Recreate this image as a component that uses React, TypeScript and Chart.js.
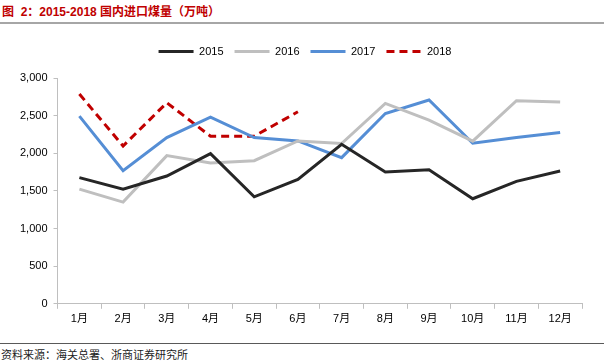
import React, { useEffect, useRef } from "react";
import { Chart, registerables } from "chart.js";

Chart.register(...registerables);

const months = ["1月", "2月", "3月", "4月", "5月", "6月", "7月", "8月", "9月", "10月", "11月", "12月"];
const s2015 = [1676, 1524, 1698, 1995, 1422, 1653, 2120, 1751, 1782, 1396, 1627, 1764];
const s2016 = [1524, 1351, 1969, 1871, 1902, 2164, 2129, 2662, 2440, 2160, 2698, 2680];
const s2017 = [2493, 1769, 2209, 2480, 2209, 2164, 1942, 2529, 2707, 2133, 2209, 2276];
const s2018 = [2787, 2097, 2671, 2227, 2227, 2551];
const yTicks = [0, 500, 1000, 1500, 2000, 2500, 3000];

const FONT = "'Liberation Sans', Arial, 'Noto Sans CJK SC', sans-serif";

const legendTweakPlugin = {
  id: "legendTweak",
  beforeInit(chart: any) {
    const legend = chart.legend;
    if (!legend) return;
    const origFit = legend.fit;
    legend.fit = function () {
      origFit.call(this);
      this.height = 43;
    };
  },
  beforeDraw(chart: any) {
    const legend = chart.legend;
    if (!legend) return;
    legend.left += 7;
    legend.right += 7;
  },
};

export default function App() {
  const ref = useRef<HTMLCanvasElement | null>(null);
  useEffect(() => {
    document.body.style.margin = "0";
    if (!ref.current) return;
    const chart = new Chart(ref.current, {
      type: "line",
      data: {
        labels: months,
        datasets: [
          { label: "2015", data: s2015, borderColor: "#262626", backgroundColor: "#262626", borderWidth: 3, pointRadius: 0, tension: 0 },
          { label: "2016", data: s2016, borderColor: "#bfbfbf", backgroundColor: "#bfbfbf", borderWidth: 3, pointRadius: 0, tension: 0 },
          { label: "2017", data: s2017, borderColor: "#558ed5", backgroundColor: "#558ed5", borderWidth: 3, pointRadius: 0, tension: 0 },
          { label: "2018", data: s2018, borderColor: "#c00000", backgroundColor: "#c00000", borderWidth: 3, borderDash: [8, 5], pointRadius: 0, tension: 0 },
        ],
      },
      options: {
        animation: false,
        responsive: false,
        maintainAspectRatio: false,
        layout: { padding: { left: 14, right: 22, top: 5, bottom: 0 } },
        plugins: {
          legend: {
            position: "top",
            labels: {
              usePointStyle: true,
              pointStyle: "line",
              pointStyleWidth: 35,
              boxHeight: 11,
              padding: 11,
              color: "#000",
              font: { family: FONT, size: 11 },
              generateLabels: (c: any) => {
                const items = Chart.defaults.plugins.legend.labels.generateLabels(c);
                items.forEach((it: any, i: number) => {
                  const ds: any = c.data.datasets[i];
                  it.lineDash = ds.borderDash || [];
                  it.lineWidth = 3;
                  it.strokeStyle = ds.borderColor;
                });
                return items;
              },
            },
          },
          tooltip: { enabled: false },
        },
        scales: {
          x: {
            offset: true,
            grid: { offset: true, drawOnChartArea: false, drawTicks: true, tickLength: 5, color: "#bfbfbf" },
            border: { color: "#bfbfbf", width: 1 },
            ticks: { color: "#000", font: { family: FONT, size: 11 }, maxRotation: 0, padding: 4 },
          },
          y: {
            min: 0,
            max: 3000,
            afterBuildTicks: (axis: any) => {
              axis.ticks = yTicks.map((v) => ({ value: v }));
            },
            grid: { drawOnChartArea: false, drawTicks: true, tickLength: 4, color: "#bfbfbf" },
            border: { color: "#bfbfbf", width: 1 },
            ticks: {
              color: "#000",
              font: { family: FONT, size: 11 },
              padding: 6,
              callback: (v: any) => Number(v).toLocaleString("en-US"),
            },
          },
        },
      },
      plugins: [legendTweakPlugin],
    });
    return () => chart.destroy();
  }, []);

  return (
    <div style={{ position: "relative", width: 604, height: 363, background: "#fff", overflow: "hidden" }}>
      <div
        style={{
          position: "absolute",
          left: 2,
          top: 4,
          fontFamily: FONT,
          fontWeight: "bold",
          fontSize: 12,
          color: "#c00000",
          lineHeight: "16px",
          whiteSpace: "pre",
        }}
      >
        {"图  2：2015-2018 国内进口煤量（万吨）"}
      </div>
      <div style={{ position: "absolute", left: 0, top: 22, width: 604, height: 2, background: "#a6a6a6" }} />
      <canvas ref={ref} width={604} height={300} style={{ position: "absolute", left: 0, top: 30, width: 604, height: 300 }} />
      <div style={{ position: "absolute", left: 0, top: 343, width: 604, height: 1, background: "#595959" }} />
      <div
        style={{
          position: "absolute",
          left: 1,
          top: 347,
          fontFamily: "'Noto Sans CJK SC', sans-serif",
          fontSize: 11,
          color: "#222",
          lineHeight: "15px",
          whiteSpace: "nowrap",
        }}
      >
        资料来源：海关总署、浙商证券研究所
      </div>
    </div>
  );
}
